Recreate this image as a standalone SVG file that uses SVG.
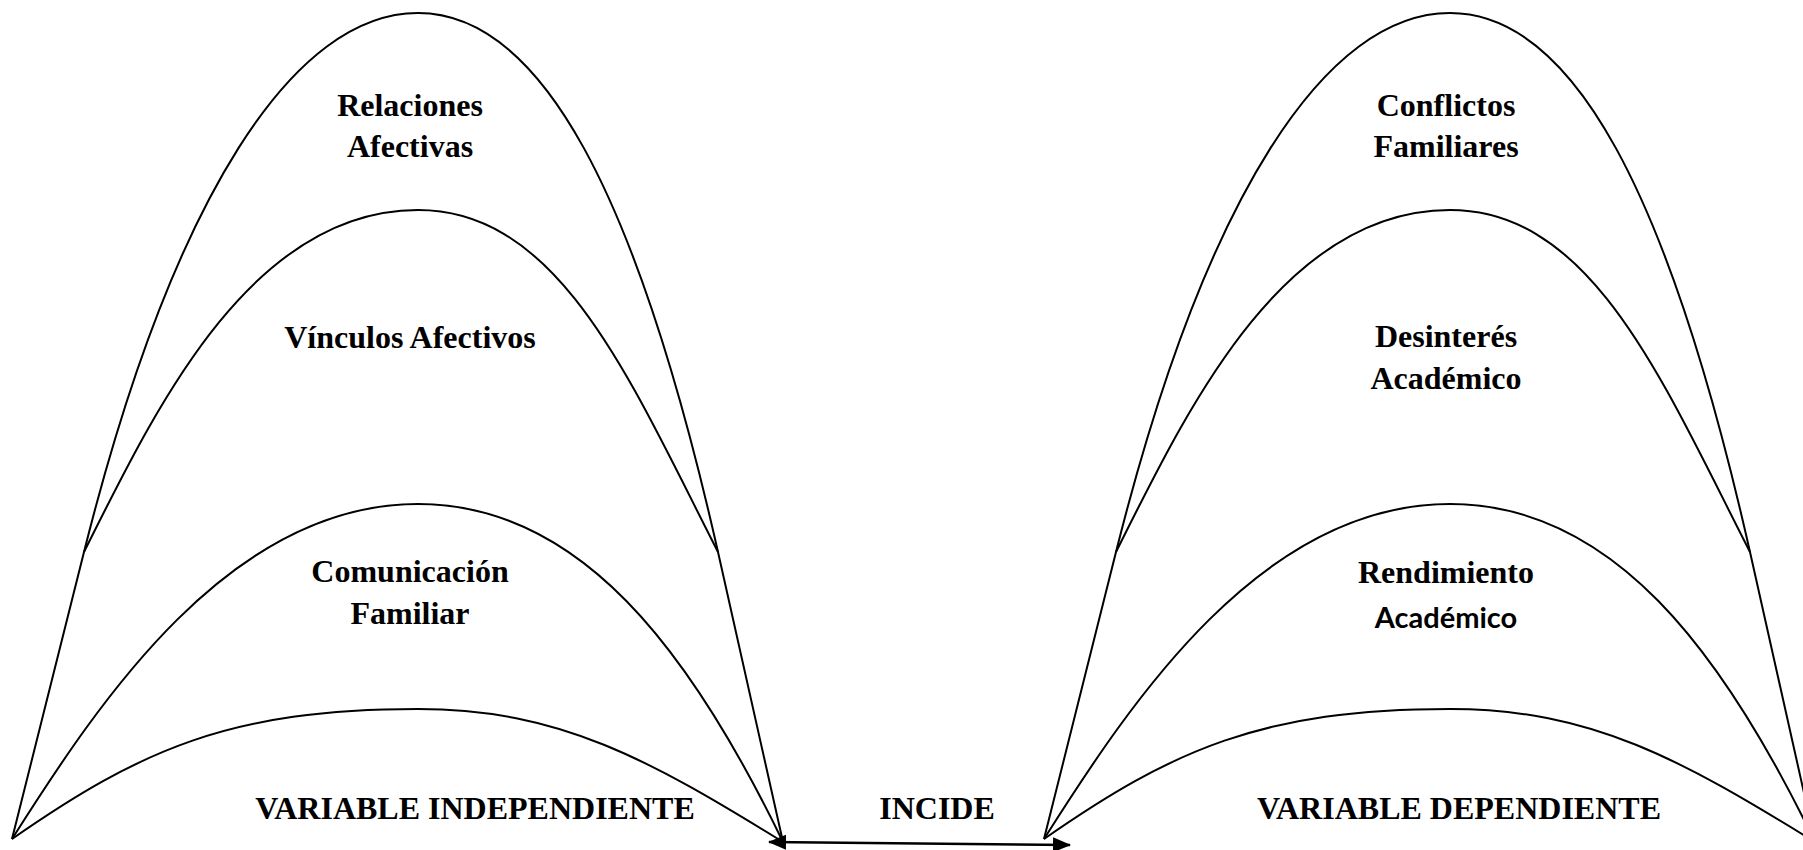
<svg xmlns="http://www.w3.org/2000/svg" width="1803" height="850" viewBox="0 0 1803 850">
<style>
.arch{fill:none;stroke:#000;stroke-width:2}
.t{font-family:"Liberation Serif","Times New Roman",serif;font-weight:bold;font-size:32px;fill:#000;text-anchor:middle}
.s{font-family:Lato,"Open Sans",sans-serif;font-weight:bold;font-size:29px;fill:#000;text-anchor:middle}
.conn{fill:none;stroke:#000;stroke-width:2.5}
</style>
<defs>
<marker id="ah" markerUnits="userSpaceOnUse" markerWidth="20" markerHeight="18" refX="17" refY="9" orient="auto-start-reverse">
<path d="M0,1.5 L18,9 L0,16.5 z" fill="#000"/>
</marker>
<g id="arches">
<path class="arch" d="M12,839 L84,552 C174,193 295,13 418,13 C541,13 637,193 718,552 L783,842"/>
<path class="arch" d="M84,552 C155,410 250,210 418,210 C560,210 630,380 718,552"/>
<path class="arch" d="M12,839 C100,700 230,504 418,504 C580,504 690,650 783,842"/>
<path class="arch" d="M12,839 C140,750 230,709 418,709 C560,709 650,760 783,842"/>
</g>
</defs>
<g id="independiente">
<use href="#arches"/>
<text class="t" x="410" y="116">Relaciones</text>
<text class="t" x="410" y="157">Afectivas</text>
<text class="t" x="410" y="348">Vínculos Afectivos</text>
<text class="t" x="410" y="582">Comunicación</text>
<text class="t" x="410" y="624">Familiar</text>
<text class="t" x="475" y="819">VARIABLE INDEPENDIENTE</text>
</g>
<g id="dependiente">
<use href="#arches" transform="translate(1032,0)"/>
<text class="t" x="1446" y="116">Conflictos</text>
<text class="t" x="1446" y="157">Familiares</text>
<text class="t" x="1446" y="347">Desinterés</text>
<text class="t" x="1446" y="389">Académico</text>
<text class="t" x="1446" y="583">Rendimiento</text>
<text class="s" x="1446" y="628">Académico</text>
<text class="t" x="1459" y="819">VARIABLE DEPENDIENTE</text>
</g>
<g id="incide">
<text class="t" x="937" y="819">INCIDE</text>
</g>
<g id="connectors">
<line class="conn" x1="769" y1="842" x2="1070" y2="845" marker-start="url(#ah)" marker-end="url(#ah)"/>
</g>
</svg>
